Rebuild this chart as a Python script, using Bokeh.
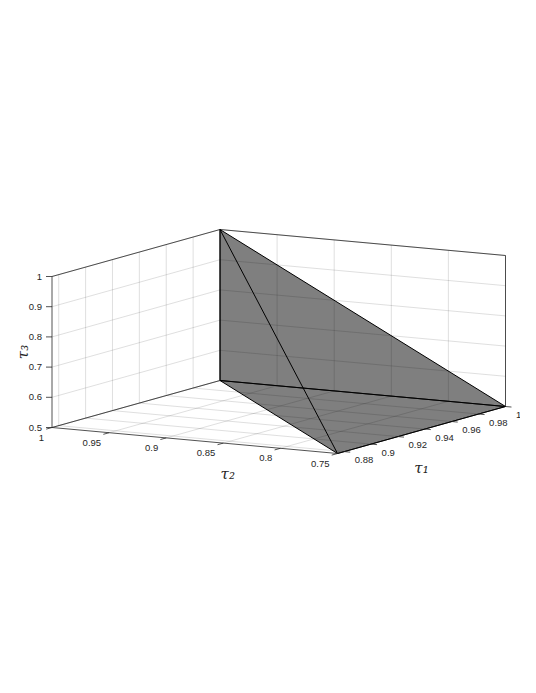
import numpy as np
from bokeh.plotting import figure
from bokeh.models import Range1d
from bokeh.embed import file_html
from bokeh.resources import INLINE
from bokeh.core.properties import value

# ---------------- data ----------------
tau1_lim = [0.875, 1.0]
tau2_lim = [0.75, 1.0]
tau3_lim = [0.5, 1.0]

tau1_ticks = [0.88, 0.90, 0.92, 0.94, 0.96, 0.98, 1.00]
tau1_labels = ["0.88", "0.9", "0.92", "0.94", "0.96", "0.98", "1"]
tau2_ticks = [0.75, 0.80, 0.85, 0.90, 0.95, 1.00]
tau2_labels = ["0.75", "0.8", "0.85", "0.9", "0.95", "1"]
tau3_ticks = [0.5, 0.6, 0.7, 0.8, 0.9, 1.0]
tau3_labels = ["0.5", "0.6", "0.7", "0.8", "0.9", "1"]

# tetrahedron vertices
vert_tau1 = [1.0, 1.0, 1.0, 0.875]
vert_tau2 = [1.0, 1.0, 0.75, 0.75]
vert_tau3 = [1.0, 0.5, 0.5, 0.5]
faces = [[0, 1, 2], [0, 1, 3], [0, 2, 3], [1, 2, 3]]
edges = [[0, 1], [0, 2], [0, 3], [1, 2], [1, 3], [2, 3]]

# ---------------- view (orthographic projection, page pixels) ----------------
ORIGIN = (337.0, 453.0)        # screen position of (tau1 min, tau2 min, tau3 min)
E1 = (168.0, -47.0)            # full tau1 range
E2 = (-285.5, -26.0)           # full tau2 range
E3 = (0.0, -151.0)             # full tau3 range


def proj(t1, t2, t3):
    t1 = np.asarray(t1, float); t2 = np.asarray(t2, float); t3 = np.asarray(t3, float)
    u = (t1 - tau1_lim[0]) / (tau1_lim[1] - tau1_lim[0])
    v = (t2 - tau2_lim[0]) / (tau2_lim[1] - tau2_lim[0])
    w = (t3 - tau3_lim[0]) / (tau3_lim[1] - tau3_lim[0])
    x = ORIGIN[0] + u * E1[0] + v * E2[0] + w * E3[0]
    y = ORIGIN[1] + u * E1[1] + v * E2[1] + w * E3[1]
    return x, y


def seg(a, b):
    xa, ya = proj(*a)
    xb, yb = proj(*b)
    return [float(xa), float(xb)], [float(ya), float(yb)]


W, H = 520, 677
p = figure(width=W, height=H, x_range=Range1d(0, W), y_range=Range1d(H, 0),
           output_backend="svg", toolbar_location=None, min_border=0,
           x_axis_location=None, y_axis_location=None)
p.grid.visible = False
p.outline_line_color = None
p.background_fill_color = "white"
p.border_fill_color = "white"

t1a, t1b = tau1_lim
t2a, t2b = tau2_lim
t3a, t3b = tau3_lim

# ---------------- grid ----------------
gx, gy = [], []
for t in tau1_ticks:
    for a, b in [((t, t2a, t3a), (t, t2b, t3a)), ((t, t2b, t3a), (t, t2b, t3b))]:
        xs, ys = seg(a, b); gx.append(xs); gy.append(ys)
for t in tau2_ticks:
    for a, b in [((t1a, t, t3a), (t1b, t, t3a)), ((t1b, t, t3a), (t1b, t, t3b))]:
        xs, ys = seg(a, b); gx.append(xs); gy.append(ys)
for t in tau3_ticks:
    for a, b in [((t1a, t2b, t), (t1b, t2b, t)), ((t1b, t2a, t), (t1b, t2b, t))]:
        xs, ys = seg(a, b); gx.append(xs); gy.append(ys)
p.multi_line(gx, gy, line_color="#262626", line_alpha=0.15, line_width=1)

# ---------------- box / axis lines ----------------
box = [
    ((t1a, t2b, t3a), (t1a, t2b, t3b)),
    ((t1b, t2b, t3a), (t1b, t2b, t3b)),
    ((t1b, t2a, t3a), (t1b, t2a, t3b)),
    ((t1a, t2b, t3b), (t1b, t2b, t3b)),
    ((t1b, t2b, t3b), (t1b, t2a, t3b)),
    ((t1a, t2a, t3a), (t1a, t2b, t3a)),
    ((t1a, t2a, t3a), (t1b, t2a, t3a)),
    ((t1a, t2b, t3a), (t1b, t2b, t3a)),
    ((t1b, t2b, t3a), (t1b, t2a, t3a)),
]
bx, by = [], []
for a, b in box:
    xs, ys = seg(a, b); bx.append(xs); by.append(ys)
p.multi_line(bx, by, line_color="#262626", line_width=0.8)

# ---------------- tetrahedron ----------------
vx, vy = proj(vert_tau1, vert_tau2, vert_tau3)
fx = [[float(vx[i]) for i in f] for f in faces]
fy = [[float(vy[i]) for i in f] for f in faces]
p.patches(fx, fy, fill_color="black", fill_alpha=0.293, line_color=None)
ex = [[float(vx[i]) for i in e] for e in edges]
ey = [[float(vy[i]) for i in e] for e in edges]
p.multi_line(ex, ey, line_color="black", line_width=1.0)

# ---------------- ticks ----------------
TL = 6.0
d1 = np.array(E1) / np.hypot(*E1)
d2 = np.array(E2) / np.hypot(*E2)
tx, ty = [], []
for t in tau1_ticks:        # ticks on tau1 axis point along -tau2
    x0, y0 = proj(t, t2a, t3a)
    tx.append([float(x0), float(x0 - d2[0] * TL)]); ty.append([float(y0), float(y0 - d2[1] * TL)])
for t in tau2_ticks:        # ticks on tau2 axis point along -tau1
    x0, y0 = proj(t1a, t, t3a)
    tx.append([float(x0), float(x0 - d1[0] * TL)]); ty.append([float(y0), float(y0 - d1[1] * TL)])
for t in tau3_ticks:
    x0, y0 = proj(t1a, t2b, t)
    tx.append([float(x0), float(x0 - TL)]); ty.append([float(y0), float(y0)])
p.multi_line(tx, ty, line_color="#262626", line_width=0.8)

FONT = value("Liberation Sans")
FS = "9.5px"
TC = "#262626"

x1, y1 = proj(tau1_ticks, [t2a] * len(tau1_ticks), [t3a] * len(tau1_ticks))
p.text(x=list(x1 + 10.5), y=list(y1 + 8.5), text=tau1_labels, text_font=FONT,
       text_font_size=FS, text_color=TC, text_align="left", text_baseline="middle")

x2, y2 = proj([t1a] * len(tau2_ticks), tau2_ticks, [t3a] * len(tau2_ticks))
p.text(x=list(x2 - 8), y=list(y2 + 10), text=tau2_labels, text_font=FONT,
       text_font_size=FS, text_color=TC, text_align="right", text_baseline="middle")

x3, y3 = proj([t1a] * len(tau3_ticks), [t2b] * len(tau3_ticks), tau3_ticks)
p.text(x=list(x3 - 10), y=list(y3), text=tau3_labels, text_font=FONT,
       text_font_size=FS, text_color=TC, text_align="right", text_baseline="middle")

# ---------------- axis labels ----------------
LF = value("DejaVu Serif")
lx1, ly1 = proj((t1a + t1b) / 2, t2a, t3a)
lx2, ly2 = proj(t1a, (t2a + t2b) / 2, t3a)
lx3, ly3 = proj(t1a, t2b, (t3a + t3b) / 2)
p.text(x=[float(lx1)], y=[float(ly1 + 38)], text=["τ₁"], text_font=LF, text_font_style="italic",
       text_font_size="15px", text_color=TC, text_align="center", text_baseline="middle")
p.text(x=[float(lx2 + 33)], y=[float(ly2 + 33)], text=["τ₂"], text_font=LF, text_font_style="italic",
       text_font_size="15px", text_color=TC, text_align="center", text_baseline="middle")
p.text(x=[float(lx3 - 29.5)], y=[float(ly3)], text=["τ₃"], text_font=LF, text_font_style="italic",
       text_font_size="15px", text_color=TC, text_align="center", text_baseline="middle",
       angle=np.pi / 2)

open("out.html", "w").write(file_html(p, INLINE))
